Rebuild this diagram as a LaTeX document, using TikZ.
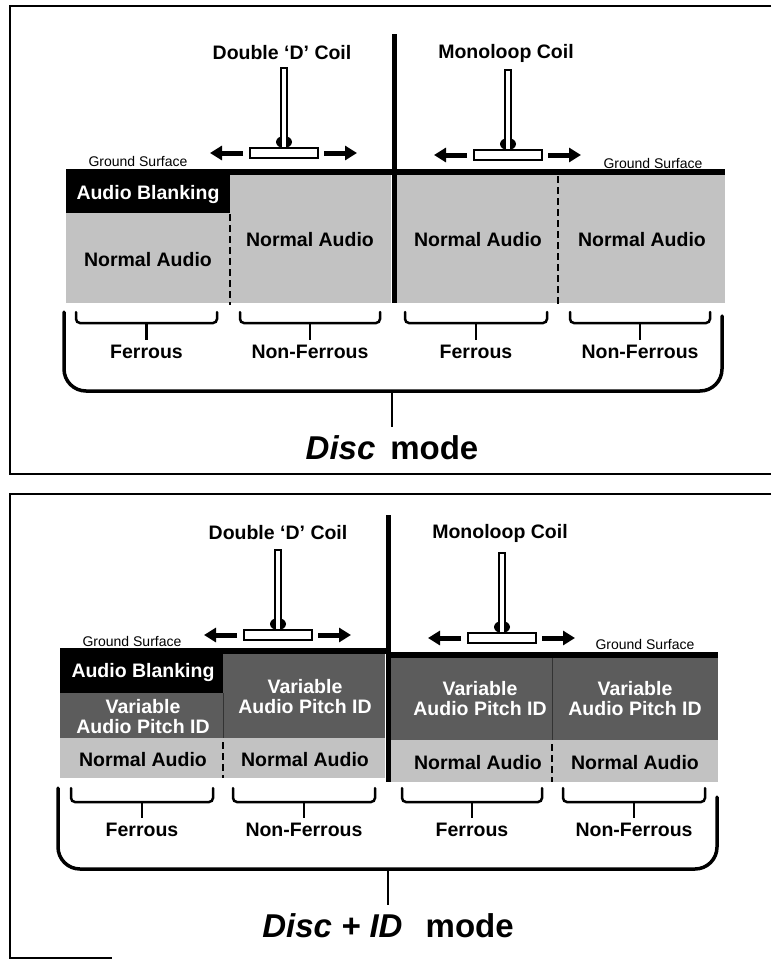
\documentclass[tikz,border=0pt]{standalone}
\usepackage{fontspec}
\setmainfont{Liberation Sans}
\usetikzlibrary{arrows.meta}
\definecolor{xlight}{HTML}{C2C2C2}
\definecolor{xdark}{HTML}{5C5C5C}
\tikzset{
	tag/.style = {text=#1, font=\bfseries\fontsize{19.5}{20}\selectfont, inner sep=1pt, align=center},
	tag/.default = black,
	gnd/.style = {font=\fontsize{14}{15}\selectfont, inner sep=1pt},
	big/.style = {font=\bfseries\fontsize{33}{36}\selectfont, inner sep=1pt},
	brk/.style = {line width=#1, rounded corners=4pt, line cap=round},
	brk/.default = 2.5pt,
	stem/.style = {line width=2.5pt, shorten >=#1},
	sweep/.style = {line width=5pt, -{Triangle[length=12pt, width=14pt]}},
	seam/.style = {line width=2pt, dash pattern=on 7pt off 4pt},
	coil/.pic = {
		\fill (0,-6) ellipse [x radius=8pt, y radius=6pt];
		\draw[line width=1.2pt, fill=white] (-3,-80) rectangle (3,0);
		\draw[line width=1.5pt, fill=white] (-34,0) rectangle (34,10);
		\draw[sweep] (-41,5) -- (-74,5);
		\draw[sweep] (40,5) -- (73,5);
	},
}

\begin{document}
\begin{tikzpicture}[x=1pt, y=-1pt]
	\useasboundingbox (0,0) rectangle (771,961);
	\draw[line width=1.2pt] (771,6) -- (10,6) -- (10,474) -- (771,474);
	\fill[xlight] (66,172) rectangle (391,303);
	\fill[xlight] (397,172) rectangle (725,303);
	\fill (66,169) rectangle (230,213);
	\draw[line width=6pt] (66,172) -- (725,172);
	\draw[seam] (230,214) -- (230,305);
	\draw[seam] (558,176) -- (558,305);
	\draw[line width=5pt] (394,34) -- (394,303);
	\pic at (284,148) {coil};
	\pic at (508,150) {coil};
	\node[tag] (dd1) at (282,53) {Double ‘D’ Coil};
	\node[tag] (ml1) at (506,53) {Monoloop Coil};
	\node[gnd] (gs1) at (138,161) {Ground Surface};
	\node[gnd] (gs2) at (653,163) {Ground Surface};
	\node[tag=white] (ab1) at (148,194) {Audio Blanking};
	\node[tag] (na1) at (148,260) {Normal Audio};
	\node[tag] (na2) at (310,240) {Normal Audio};
	\node[tag] (na3) at (478,240) {Normal Audio};
	\node[tag] (na4) at (642,240) {Normal Audio};
	\foreach \a/\b/\n/\t in {76/217/f1/Ferrous, 240/380/n1/Non-Ferrous, 405/547/f2/Ferrous, 570/710/n2/Non-Ferrous}{
		\draw[brk] (\a,312) |- (\b,323) -- (\b,312);
		\coordinate (k\n) at ({(\a+\b)/2},323);
		\node[tag] (\n) at ({(\a+\b)/2},352) {\t};
		\draw[stem=4pt] (k\n) -- (\n);
	}
	\draw[brk=3.5pt, rounded corners=22pt] (64,312) -- (64,391) -- (722,391) -- (722,316);
	\coordinate (m1) at (392,391);
	\node[big] (mode1) at (392,448) {\textit{Disc}\hspace{.45em}mode};
	\draw[stem=8pt] (m1) -- (mode1);

	\draw[line width=1.2pt] (771,494) -- (10,494) -- (10,958) -- (112,958);
	\fill[xdark] (60,651) rectangle (385,738);
	\fill[xdark] (391,655) rectangle (718,740);
	\fill[xlight] (60,738) rectangle (385,778);
	\fill[xlight] (391,740) rectangle (718,782);
	\fill (60,648) rectangle (223,693);
	\draw[line width=6pt] (60,651) -- (388,651);
	\draw[line width=6pt] (388,655) -- (718,655);
	\draw[black!80, line width=1pt] (223,693) -- (223,738);
	\draw[black!80, line width=1pt] (552,658) -- (552,740);
	\draw[seam] (223,742) -- (223,778);
	\draw[seam] (552,744) -- (552,782);
	\draw[line width=5pt] (388,515) -- (388,782);
	\pic at (278,630) {coil};
	\pic at (502,633) {coil};
	\node[tag] (dd2) at (278,533) {Double ‘D’ Coil};
	\node[tag] (ml2) at (500,533) {Monoloop Coil};
	\node[gnd] (gs3) at (132,641) {Ground Surface};
	\node[gnd] (gs4) at (645,644) {Ground Surface};
	\node[tag=white] (ab2) at (143,672) {Audio Blanking};
	\node[tag=white] (vp1) at (143,717) {Variable\\Audio Pitch ID};
	\node[tag=white] (vp2) at (305,697) {Variable\\Audio Pitch ID};
	\node[tag=white] (vp3) at (480,699) {Variable\\Audio Pitch ID};
	\node[tag=white] (vp4) at (635,699) {Variable\\Audio Pitch ID};
	\node[tag] (na5) at (143,760) {Normal Audio};
	\node[tag] (na6) at (305,760) {Normal Audio};
	\node[tag] (na7) at (478,763) {Normal Audio};
	\node[tag] (na8) at (635,763) {Normal Audio};
	\foreach \a/\b/\n/\t in {71/213/f3/Ferrous, 233/375/n3/Non-Ferrous, 402/542/f4/Ferrous, 563/705/n4/Non-Ferrous}{
		\draw[brk] (\a,788) |- (\b,802) -- (\b,788);
		\coordinate (k\n) at ({(\a+\b)/2},802);
		\node[tag] (\n) at ({(\a+\b)/2},830) {\t};
		\draw[stem=4pt] (k\n) -- (\n);
	}
	\draw[brk=3.5pt, rounded corners=22pt] (58,788) -- (58,869) -- (717,869) -- (717,797);
	\coordinate (m2) at (388,869);
	\node[big] (mode2) at (388,926) {\textit{Disc + ID}\hspace{.7em}mode};
	\draw[stem=8pt] (m2) -- (mode2);
\end{tikzpicture}
\end{document}
